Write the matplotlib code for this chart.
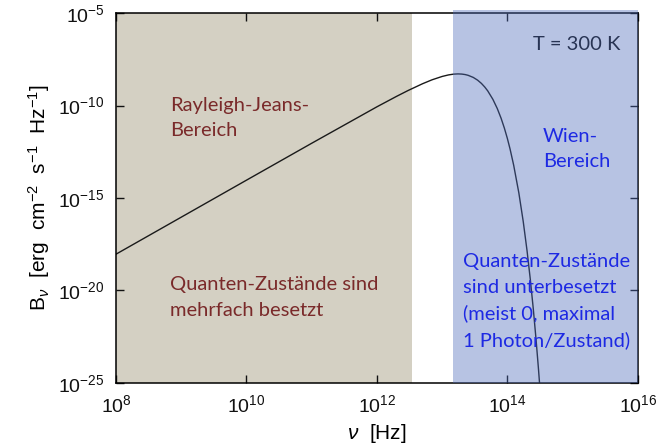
import matplotlib
matplotlib.use("Agg")
import matplotlib.pyplot as plt
from matplotlib.ticker import NullLocator

# Planck curve at T = 300 K, frequency [Hz] and B_nu [erg cm^-2 s^-1 Hz^-1]
nu = [1e8, 1e10, 1e11, 1e12, 2e12, 3e12, 5e12, 7e12, 1e13, 1.25e13, 1.5e13,
      1.75e13, 2e13, 2.25e13, 2.5e13, 3e13, 3.5e13, 4e13, 4.5e13, 5e13, 6e13,
      7e13, 8e13, 9e13, 1e14, 1.1e14, 1.25e14, 1.5e14, 1.75e14, 2e14, 2.25e14,
      2.5e14, 2.75e14, 3e14, 3.25e14]
b_nu = [9.2e-19, 9.2e-15, 9.1e-13, 8.5e-11, 3.12e-10, 6.45e-10, 1.50e-9,
        2.45e-9, 3.72e-9, 4.50e-9, 4.96e-9, 5.11e-9, 5.0e-9, 4.71e-9, 4.29e-9,
        3.30e-9, 2.34e-9, 1.565e-9, 1.0e-9, 6.17e-10, 2.15e-10, 6.9e-11,
        2.08e-11, 5.98e-12, 1.66e-12, 4.45e-13, 5.9e-14, 1.88e-15, 5.45e-17,
        1.49e-18, 3.89e-20, 9.77e-22, 2.38e-23, 5.66e-25, 1.32e-26]

# frequency ranges of the two regimes
rj_range = (1e8, 3.44e12)
wien_range = (1.46e13, 1e16)

x_ticks = [1e8, 1e10, 1e12, 1e14, 1e16]
y_ticks = [1e-25, 1e-20, 1e-15, 1e-10, 1e-5]

plt.rcParams["font.family"] = ["Liberation Sans", "DejaVu Sans"]
plt.rcParams["mathtext.fontset"] = "custom"
plt.rcParams["mathtext.rm"] = "Liberation Sans"
plt.rcParams["mathtext.it"] = "Liberation Sans:italic"

fig = plt.figure(figsize=(6.63, 4.44), dpi=100)
ax = fig.add_axes([0.175, 0.1374, 0.787, 0.8333])

ax.axvspan(*rj_range, color="#d4d0c3", zorder=0, lw=0)
ax.plot(nu, b_nu, color="#1a1a1a", lw=1.0, zorder=2)

ax.set_xscale("log")
ax.set_yscale("log")
ax.set_xlim(1e8, 1e16)
ax.set_ylim(1e-25, 1e-5)
ax.set_xticks(x_ticks)
ax.set_yticks(y_ticks)
ax.xaxis.set_minor_locator(NullLocator())
ax.yaxis.set_minor_locator(NullLocator())
ax.tick_params(direction="in", length=6, width=1, top=True, right=True,
               labelsize=14, pad=8, colors="#111111")
for s in ax.spines.values():
    s.set_linewidth(1.1)

ax.set_xlabel(r"$\nu$  [Hz]", fontsize=15, labelpad=4)
ax.set_ylabel(r"B$_\nu$  [erg  cm$^{-2}$  s$^{-1}$  Hz$^{-1}$]", fontsize=15, labelpad=5)

txt = dict(family=["Lato", "DejaVu Sans"], fontsize=14.5, transform=ax.transAxes,
           va="top", ha="left", linespacing=1.58)
brown = "#7a2a2a"
ax.text(0.103, 0.773, "Rayleigh-Jeans-\nBereich", color=brown, **txt)
ax.text(0.103, 0.288, "Quanten-Zustände sind\nmehrfach besetzt", color=brown, **txt)
ax.text(0.799, 0.937, "T = 300 K", color="#111111", **txt)
ax.text(0.818, 0.69, "Wien-\nBereich", color="#0000ff", **txt)
ax.text(0.665, 0.35, "Quanten-Zustände\nsind unterbesetzt\n(meist 0, maximal\n1 Photon/Zustand)",
        color="#0000ff", **txt)

# translucent blue overlay for the Wien regime
ax.axvspan(*wien_range, ymin=0, ymax=1.008, color="#4b69b9", alpha=0.4,
           lw=0, zorder=10, clip_on=False)

fig.savefig("out.png", dpi=100)
